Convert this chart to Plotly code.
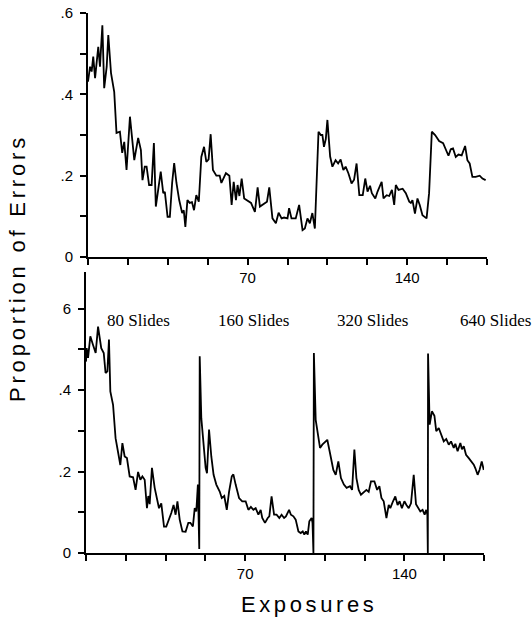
import plotly.graph_objects as go

# ---------------- data ----------------
top_exposures = [0, 0.9, 1.6, 2.3, 3.1, 3.8, 4.5, 5.25, 6.3, 7.1, 8.2, 8.9, 10.1, 11.5, 12.5, 14.0, 15.0, 15.9,
                 16.9, 18.4, 20.3, 22.0, 23.2, 23.9, 24.9, 25.7, 26.8, 27.9, 28.9, 29.75, 30.8, 31.9, 33.0, 33.7,
                 34.9, 35.9, 36.9, 37.8, 38.8, 40.0, 41.3, 42.0, 42.7, 43.6, 44.6, 45.6, 46.5, 47.5, 48.6, 49.7,
                 50.9, 51.9, 52.9, 53.8, 54.8, 56.3, 57.75, 58.5, 60.5, 62.0, 63.0, 63.9, 64.9, 65.6, 66.4, 67.4,
                 68.5, 70.3, 71.5, 73.2, 74.4, 75.4, 76.9, 78.5, 79.5, 80.9, 82.4, 83.6, 84.9, 86.0, 87.5, 88.2,
                 89.25, 91.1, 92.6, 94.1, 95.1, 96.25, 97.3, 98.4, 99.5, 100.3, 101.1, 102.1, 102.8, 103.5, 104.3,
                 105.0, 106.2, 107.2, 108.6, 109.7, 110.8, 112.0, 113.0, 114.2, 115.6, 116.7, 117.8, 119.0, 120.5,
                 121.6, 122.6, 123.7, 124.5, 126.0, 127.0, 128.8, 129.6, 131.0, 132.1, 133.3, 134.3, 135.0, 136.2,
                 138.0, 139.4, 140.9, 141.6, 142.3, 143.4, 144.5, 145.5, 146.7, 148.5, 149.6, 150.8, 152.25, 154.0,
                 155.75, 156.9, 158.1, 159.1, 160.1, 161.3, 162.5, 163.9, 165.4, 166.4, 167.4, 168.6, 170.0, 171.8,
                 173.0, 174.4]
top_errors = [.431, .468, .456, .493, .44, .484, .517, .468, .570, .415, .468, .546, .452, .406, .305, .308, .256, .283,
              .214, .345, .238, .293, .263, .189, .222, .222, .177, .177, .280, .124, .173, .21, .157, .16,
              .099, .099, .182, .231, .182, .14, .108, .115, .074, .14, .133, .135, .115, .152, .136, .246,
              .271, .234, .24, .302, .214, .2, .2, .182, .206, .2, .128, .185, .14, .177, .15, .193,
              .144, .136, .133, .111, .171, .124, .13, .136, .171, .095, .083, .109, .095, .097, .095, .12,
              .095, .095, .128, .066, .07, .095, .083, .108, .07, .173, .308, .3, .3, .271, .29,
              .337, .247, .222, .238, .23, .24, .214, .222, .206, .181, .19, .23, .152, .152,
              .193, .161, .175, .157, .144, .161, .185, .144, .152, .15, .165, .128, .177, .165,
              .168, .157, .136, .133, .14, .107, .144, .128, .103, .095, .157, .308, .3, .285,
              .28, .265, .249, .265, .267, .246, .252, .25, .273, .238, .23, .197, .197, .2,
              .193, .189]

bottom_exposures = [0, 0.3, 0.9, 1.9, 3.1, 4.25, 5.3, 6.0, 6.7, 7.8, 8.6, 9.4, 10.1, 10.7, 11.9, 13.0, 14.1, 15.1,
                    16.0, 17.0, 18.0, 19.2, 20.7, 21.8, 22.9, 23.9, 24.8, 25.8, 26.8, 27.4, 28.0, 29.0, 30.2, 31.2,
                    32.1, 33.1, 34.3, 35.3, 36.5, 37.5, 38.5, 39.4, 40.2, 41.2, 42.4, 43.8, 45.0, 45.9, 47.0, 47.8,
                    48.5, 49.2, 49.8, 50.0, 50.7, 51.7, 52.6, 53.2, 54.1, 55.1, 56.1, 57.3, 58.8, 59.7, 60.8, 61.9,
                    62.9, 64.1, 64.8, 65.8, 67.3, 68.7, 70.2, 71.4, 72.5, 73.6, 74.6, 75.8, 76.8, 77.5, 78.7, 79.9,
                    80.6, 81.6, 82.7, 83.8, 85.0, 86.0, 87.1, 87.9, 89.3, 90.1, 91.2, 92.2, 93.4, 94.4, 95.3, 96.0,
                    96.7, 97.5, 98.2, 99.2, 99.6, 100.0, 100.2, 101.0, 101.9, 102.9, 103.9, 105.1, 106.1, 107.3,
                    108.75, 109.8, 110.95, 112.1, 113.4, 114.6, 116.1, 117.0, 118.0, 118.9, 119.9, 120.9, 122.1,
                    123.3, 124.3, 125.3, 126.8, 128.0, 129.0, 129.9, 130.9, 132.1, 133.1, 133.8, 135.0, 136.0, 137.0,
                    137.9, 138.9, 140.0, 140.9, 141.9, 142.9, 144.1, 145.1, 146.0, 147.0, 148.0, 148.9, 149.6, 150.1,
                    150.3, 150.4, 151.1, 152.1, 153.2, 154.0, 155.1, 156.1, 157.3, 158.4, 159.5, 160.5, 161.7, 162.4,
                    163.4, 164.6, 165.3, 166.1, 167.1, 168.3, 169.3, 170.5, 171.2, 172.2, 173.1, 174.0, 174.9]
bottom_errors = [.47, .503, .479, .532, .511, .491, .556, .524, .503, .491, .442, .446, .524, .397, .364, .282, .241, .216,
                 .27, .237, .233, .188, .186, .155, .199, .18, .188, .18, .11, .14, .12, .209, .16, .135,
                 .11, .122, .065, .065, .082, .098, .118, .094, .127, .082, .053, .052, .074, .074, .065, .11,
                 .102, .168, .01, .483, .331, .274, .209, .196, .303, .237, .192, .168, .151, .135, .14, .106,
                 .15, .188, .193, .168, .135, .127, .127, .106, .113, .106, .11, .094, .106, .086, .074, .086,
                 .09, .139, .094, .094, .086, .094, .086, .09, .106, .094, .09, .082, .053, .049, .053, .045,
                 .053, .045, .078, .086, .074, 0.0, .491, .327, .29, .258, .266, .274, .278, .245,
                 .204, .192, .225, .184, .168, .16, .164, .155, .254, .184, .155, .143, .15,
                 .155, .15, .176, .176, .155, .164, .135, .127, .086, .118, .11, .127, .139, .118,
                 .127, .11, .127, .118, .11, .122, .192, .12, .11, .102, .106, .094, .106, .094,
                 0.0, .49, .315, .348, .337, .299, .307, .29, .274, .28, .266, .274, .258, .268,
                 .25, .27, .255, .262, .241, .233, .225, .217, .208, .192, .205, .225, .204]

x_tick_vals = [0, 17.5, 35, 52.5, 70, 87.5, 105, 122.5, 140, 157.5, 175]
x_tick_text = ["", "", "", "", "70", "", "", "", "140", "", ""]
y_tick_vals = [0, 0.1, 0.2, 0.3, 0.4, 0.5, 0.6]
top_y_tick_text = ["0", "", ".2", "", ".4", "", ".6"]
bottom_y_tick_text = ["0", "", ".2", "", ".4", "", "6"]

condition_labels = ["80 Slides", "160 Slides", "320 Slides", "640 Slides"]
condition_label_x = [23, 73.5, 126, 180]
condition_label_y = 0.572

# ---------------- figure ----------------
W, H = 532, 620
X_MIN, X_MAX = 0, 175


def px_x(v, left, right):
    # fraction of paper for a data x value in an axis spanning [left, right] pixels
    return (left + (v - X_MIN) / (X_MAX - X_MIN) * (right - left)) / W


fig = go.Figure()
line_style = dict(color="black", width=1.8)
fig.add_trace(go.Scatter(x=top_exposures, y=top_errors, mode="lines", line=line_style,
                         xaxis="x", yaxis="y", showlegend=False, hoverinfo="skip"))
fig.add_trace(go.Scatter(x=bottom_exposures, y=bottom_errors, mode="lines", line=line_style,
                         xaxis="x2", yaxis="y2", showlegend=False, hoverinfo="skip"))

tick_font = dict(family="Liberation Sans, Arial, sans-serif", size=15, color="black")
axis_common = dict(showline=True, linecolor="black", linewidth=2, ticks="outside", ticklen=6,
                   tickwidth=1.5, tickcolor="black", showgrid=False, zeroline=False,
                   tickfont=tick_font, mirror=False, fixedrange=True, automargin=False)

fig.update_layout(
    width=W, height=H, autosize=False,
    margin=dict(l=0, r=0, t=0, b=0, pad=0),
    paper_bgcolor="white", plot_bgcolor="white",
    xaxis=dict(domain=[88 / W, 487 / W], range=[X_MIN, X_MAX], anchor="y",
               tickvals=x_tick_vals, ticktext=x_tick_text, ticklabelstandoff=0, **axis_common),
    yaxis=dict(domain=[(H - 257) / H, (H - 13) / H], range=[0, 0.6], anchor="x",
               tickvals=y_tick_vals, ticktext=top_y_tick_text, ticklabelstandoff=4, **axis_common),
    xaxis2=dict(domain=[86 / W, 484 / W], range=[X_MIN, X_MAX], anchor="y2",
                tickvals=x_tick_vals, ticktext=x_tick_text, ticklabelstandoff=0, **axis_common),
    yaxis2=dict(domain=[(H - 553) / H, (H - 272) / H], range=[0, 0.69], anchor="x2",
                tickvals=y_tick_vals, ticktext=bottom_y_tick_text, ticklabelstandoff=4, **axis_common),
)

serif = dict(family="Liberation Serif, Times New Roman, serif", size=17, color="black")
label_y_paper = ((H - 553) + condition_label_y / 0.69 * (553 - 272)) / H
for lbl, lx in zip(condition_labels, condition_label_x):
    fig.add_annotation(x=px_x(lx, 86, 484), y=label_y_paper, xref="paper", yref="paper", text=lbl,
                       showarrow=False, font=serif, xanchor="center", yanchor="middle")

title_font = dict(family="Liberation Sans, Arial, sans-serif", size=22, color="black")
fig.add_annotation(x=17 / W, y=(H - 268) / H, xref="paper", yref="paper",
                   text='<span style="letter-spacing:3.8px">Proportion of Errors</span>',
                   textangle=-90, showarrow=False, font=title_font,
                   xanchor="center", yanchor="middle")
fig.add_annotation(x=309 / W, y=(H - 604) / H, xref="paper", yref="paper",
                   text='<span style="letter-spacing:3.6px">Exposures</span>',
                   showarrow=False, font=title_font, xanchor="center", yanchor="middle")

fig.write_html("out.html", config={"displayModeBar": False},
               post_script="document.body.style.margin='0';document.body.style.overflow='hidden';")
